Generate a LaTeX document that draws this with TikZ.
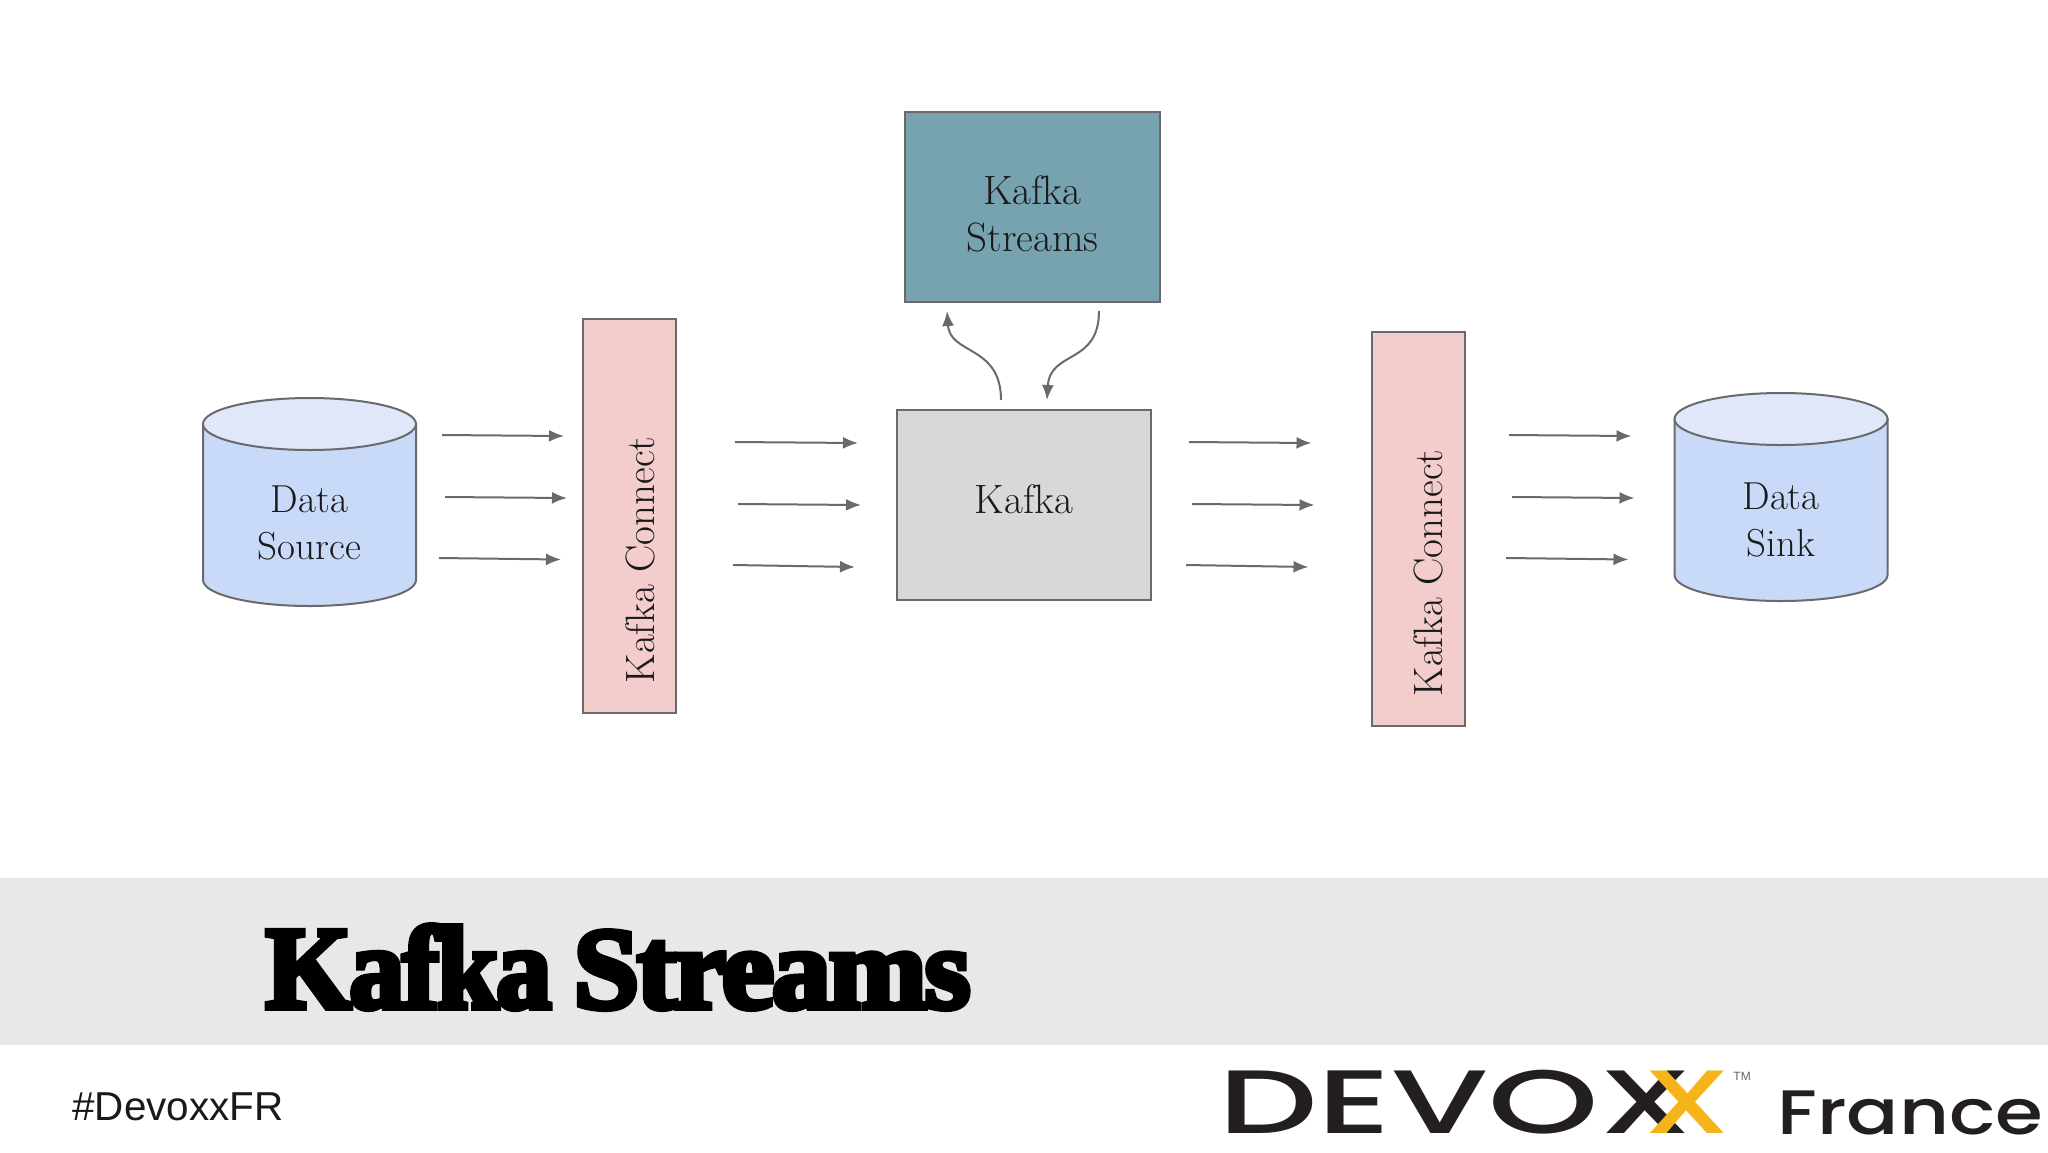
\documentclass[tikz,border=0pt]{standalone}
\usepackage{fontspec}
\usepackage{graphicx}
\usetikzlibrary{arrows.meta}
\newfontfamily\hashfont{Liberation Sans}
\newfontfamily\titlefont{Liberation Serif}[UprightFont=* Bold, FakeBold=5, LetterSpace=-2]
\newfontfamily\logofontA{Poppins}[UprightFont=* Medium, FakeStretch=1.56]
\newfontfamily\logofontB{Poppins}[UprightFont=* Medium, FakeStretch=1.47]
\newfontfamily\logofontC{Poppins}[UprightFont=* Medium, FakeStretch=1.23]
\definecolor{edgegray}{HTML}{6A6A6D}
\definecolor{cylbody}{HTML}{C9DAF8}
\definecolor{cyltop}{HTML}{DFE7F9}
\definecolor{pinkbox}{HTML}{F3CCCC}
\definecolor{tealbox}{HTML}{76A3AF}
\definecolor{graybox}{HTML}{D8D7DA}
\definecolor{bandgray}{HTML}{E8E7EA}
\definecolor{logoblack}{HTML}{231F20}
\definecolor{logoyellow}{HTML}{F4B41A}
\newcommand{\dbdrum}[2]{% left x, top-ellipse centre y
  \path[draw=edgegray,line width=1pt,fill=cylbody] (#1,#2) -- ++(0,156) arc[start angle=180,end angle=0,x radius=106.5,y radius=26] -- ++(0,-156) -- cycle;
  \path[draw=edgegray,line width=1pt,fill=cyltop] (#1+106.5,#2) ellipse[x radius=106.5,y radius=26];
}
\tikzset{
  x=0.5pt,y=-0.5pt,
  boxnode/.style={draw=edgegray,line width=1pt,inner sep=0pt},
  boxlabel/.style={inner sep=0pt,align=center,font=\fontsize{20.5}{23.5}\selectfont,text=black!90},
  dblabel/.style={inner sep=0pt,align=center,font=\fontsize{19.5}{23.5}\selectfont,text=black!90},
  flow/.style={draw=edgegray,line width=1pt,-{Latex[length=7.5pt,width=6pt]}},
  logotext/.style={inner sep=0pt,anchor=base west},
}
\begin{document}
\begin{tikzpicture}
\useasboundingbox (0,0) rectangle (2048,1152);
\fill[bandgray] (0,878) rectangle (2048,1045);

\node[boxnode,fill=tealbox,minimum width=127.5pt,minimum height=95pt] (streams) at (1032.5,207) {};
\node[boxlabel] (streamslabel) at (1032.5,214) {Kafka\\Streams};
\node[boxnode,fill=graybox,minimum width=127pt,minimum height=95pt] (kafka) at (1024,504.5) {};
\node[boxlabel] (kafkalabel) at (1024,499) {Kafka};
\node[boxnode,fill=pinkbox,minimum width=46.5pt,minimum height=197pt] (connecta) at (629.5,516) {};
\node[boxnode,fill=pinkbox,minimum width=46.5pt,minimum height=197pt] (connectb) at (1418,529) {};
\node[boxlabel,rotate=90] (connectalabel) at (640,560) {Kafka Connect};
\node[boxlabel,rotate=90] (connectblabel) at (1428,573) {Kafka Connect};

\dbdrum{203}{424}
\dbdrum{1674.5}{419}
\node[dblabel] (sourcelabel) at (309.5,523) {Data\\Source};
\node[dblabel] (sinklabel) at (1781,520) {Data\\Sink};

\coordinate (a1s) at (442,435); \coordinate (a1e) at (564,436);
\coordinate (a2s) at (445,497); \coordinate (a2e) at (567,498);
\coordinate (a3s) at (439,558); \coordinate (a3e) at (561,559.5);
\coordinate (b1s) at (735,442); \coordinate (b1e) at (858,443);
\coordinate (b2s) at (738,504); \coordinate (b2e) at (861,505);
\coordinate (b3s) at (733,565); \coordinate (b3e) at (855,567);
\coordinate (c1s) at (1189,442); \coordinate (c1e) at (1311.5,443);
\coordinate (c2s) at (1192,504); \coordinate (c2e) at (1314.5,505);
\coordinate (c3s) at (1186,565); \coordinate (c3e) at (1308.5,567);
\coordinate (d1s) at (1509,435); \coordinate (d1e) at (1631.5,436);
\coordinate (d2s) at (1512,497); \coordinate (d2e) at (1634.5,498);
\coordinate (d3s) at (1506,558); \coordinate (d3e) at (1628.5,559.5);
\foreach \g in {a,b,c,d}{\foreach \i in {1,2,3}{\draw[flow] (\g\i s) -- (\g\i e);}}

\coordinate (ups) at (1001,400); \coordinate (upe) at (947,311);
\coordinate (dns) at (1099,311); \coordinate (dne) at (1047,400);
\draw[flow] (ups) .. controls (1001,345) and (950,355) .. (upe);
\draw[flow] (dns) .. controls (1099,365) and (1050,350) .. (dne);

\node[inner sep=0pt,anchor=base west] (title) at (265,1008) {\resizebox{143pt}{41.5pt}{\titlefont Kafka}\hspace{11pt}\resizebox{198.5pt}{38.5pt}{\titlefont Streams}};
\node[inner sep=0pt,anchor=base west,font=\hashfont\fontsize{20.2}{24}\selectfont,text=black!90] (hash) at (72,1120.5) {\#DevoxxFR};

\node[logotext,text=logoblack,font=\logofontA\fontsize{45}{50}\selectfont] (devox) at (1218,1133) {DEVOX};
\node[logotext,text=logoyellow,font=\logofontB\fontsize{45}{50}\selectfont] (devoxy) at (1643,1133) {X};
\node[logotext,text=logoblack!70,font=\hashfont\fontsize{6}{7}\selectfont] (tm) at (1733,1080) {TM};
\node[logotext,text=logoblack,font=\logofontC\fontsize{31.4}{34}\selectfont] (france) at (1777,1134) {France};
\end{tikzpicture}
\end{document}
